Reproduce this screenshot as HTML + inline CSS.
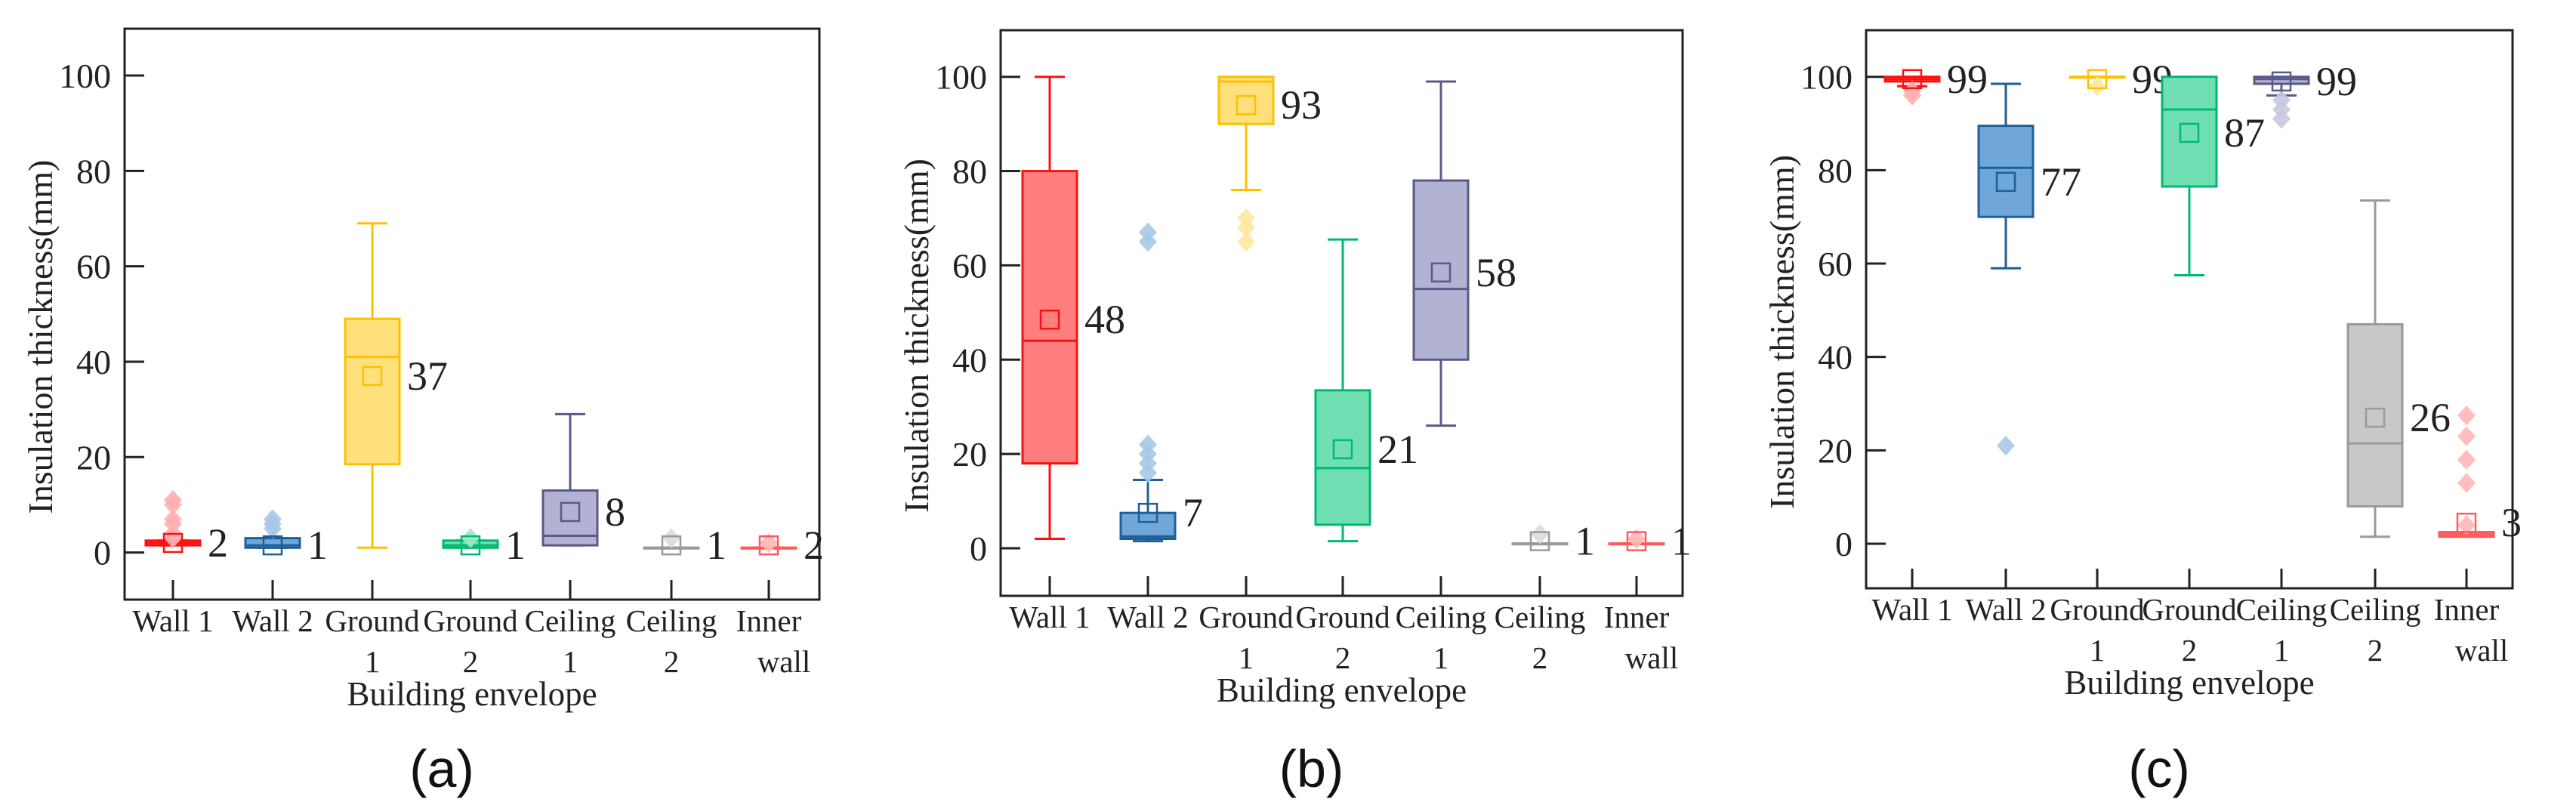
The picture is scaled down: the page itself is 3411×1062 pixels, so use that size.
<!DOCTYPE html>
<html><head><meta charset="utf-8"><style>
html,body{margin:0;padding:0;background:#fff;}
svg{display:block;font-family:"Liberation Serif",serif;}
</style></head><body>
<svg id="fig" width="3411" height="1062" viewBox="0 0 3411 1062"></svg>
<script>
const categories=["Wall 1","Wall 2","Ground 1","Ground 2","Ceiling 1","Ceiling 2","Inner wall"];
const catLine1=["Wall 1","Wall 2","Ground","Ground","Ceiling","Ceiling","Inner"];
const catLine2=["","","1","2","1","2","wall"];
const yTicks=[0,20,40,60,80,100];
const panelLetters=["(a)","(b)","(c)"];
// [min,q1,median,q3,max] per category
const statsA=[[1.5,1.5,2,2.5,2.5],[1,1,1.5,3,3],[1,18.5,41,49,69],[1,1,1.5,2.5,2.5],[1.5,1.5,3.5,13,29],[1,1,1,1,1],[1,1,1,1,1]];
const meansA=[2,1.5,37,1.5,8.5,1.5,1.5];
const labelsA=["2","1","37","1","8","1","2"];
const outliersA=[[3,4,6,7,10,11],[5,6,7],[],[3],[],[3],[2]];
const statsB=[[2,18,44,80,100],[1.5,2,2.5,7.5,14.5],[76,90,99,100,100],[1.5,5,17,33.5,65.5],[26,40,55,78,99],[1,1,1,1,1],[1,1,1,1,1]];
const meansB=[48.5,7.5,94,21,58.5,1.5,1.5];
const labelsB=["48","7","93","21","58","1","1"];
const outliersB=[[],[16,18,20,22,65,67],[65,68,70],[],[],[3],[2]];
const statsC=[[98,99,99.5,100,100],[59,70,80.5,89.5,98.5],[100,100,100,100,100],[57.5,76.5,93,100,100],[96,98.5,99.5,100,100],[1.5,8,21.5,47,73.5],[1.5,1.5,2,2.5,2.5]];
const meansC=[99.5,77.5,99.5,88,99,27,4.5];
const labelsC=["99","77","99","87","99","26","3"];
const outliersC=[[96,97],[21],[98],[],[91,93,95],[],[4,13,18,23,27.5]];

const strokes=["#ff1010","#1f5f99","#ffc000","#00b870","#5a5a8a","#9a9a9a","#ff5a5a"];
const fills=["#ff7f7f","#6fa7d8","#ffe07a","#70e0b4","#b2b2d2","#c8c8c8","#ff9a9a"];
const outFill=["#ffb0b0","#a8c8e8","#ffe8a0","#a0e8c8","#c8c8e0","#dcdcdc","#ffb8b8"];

const panels=[
 {L:165,T:38,R:1085,B:794,y0:731.6,y100:100,cx:[229,361,493,623,755,889,1018],stats:statsA,means:meansA,labels:labelsA,outs:outliersA,name:"a"},
 {L:1325,T:40,R:2228,B:789,y0:726,y100:101.7,cx:[1390,1520,1650,1778,1908,2039,2167],stats:statsB,means:meansB,labels:labelsB,outs:outliersB,name:"b"},
 {L:2471,T:40,R:3327,B:779,y0:720,y100:101.7,cx:[2532,2656,2777,2899,3021,3145,3266],stats:statsC,means:meansC,labels:labelsC,outs:outliersC,name:"c"}
];
const NS="http://www.w3.org/2000/svg";
const svg=document.getElementById("fig");
function mk(tag,attrs,parent){const e=document.createElementNS(NS,tag);for(const k in attrs)e.setAttribute(k,attrs[k]);(parent||svg).appendChild(e);return e;}

panels.forEach((p,pi)=>{
 const g=mk("g",{});
 
 
 const y=v=>p.y0+(p.y100-p.y0)*v/100;
 const fr=mk("rect",{x:p.L,y:p.T,width:p.R-p.L,height:p.B-p.T,fill:"none",stroke:"#222","stroke-width":3},g);
 
 
 yTicks.forEach(t=>{
  const tl=mk("line",{x1:p.L,x2:p.L+26,y1:y(t),y2:y(t),stroke:"#222","stroke-width":3},g);
  
  
  const tx=mk("text",{x:p.L-18,y:y(t)+16,"text-anchor":"end","font-size":46,fill:"#222"},g);
  tx.textContent=t;
  
  
 });
 const yt=mk("text",{x:0,y:0,transform:`translate(${p.L-96},${(p.T+p.B)/2+30}) rotate(-90)`,"text-anchor":"middle","font-size":46,fill:"#222"},g);
 yt.textContent="Insulation thickness(mm)";
 
 
 categories.forEach((c,i)=>{
  const x=p.cx[i];
  const xt=mk("line",{x1:x,x2:x,y1:p.B-26,y2:p.B,stroke:"#222","stroke-width":3},g);
  
  
  const l1=mk("text",{x:x,y:p.B+42,"text-anchor":"middle","font-size":41,fill:"#222"},g);
  l1.textContent=catLine1[i];
  
  
  if(catLine2[i]){
   const l2=mk("text",{x:x+(i==6?20:0),y:p.B+96,"text-anchor":"middle","font-size":41,fill:"#222"},g);
   l2.textContent=catLine2[i];
   
   
  }
  const s=p.stats[i],col=strokes[i];
  const bg=mk("g",{},g);
  
  
  const hw=36,cw=20;
  mk("line",{x1:x,x2:x,y1:y(s[0]),y2:y(s[1]),stroke:col,"stroke-width":3},bg);
  mk("line",{x1:x,x2:x,y1:y(s[3]),y2:y(s[4]),stroke:col,"stroke-width":3},bg);
  mk("line",{x1:x-cw,x2:x+cw,y1:y(s[0]),y2:y(s[0]),stroke:col,"stroke-width":3},bg);
  mk("line",{x1:x-cw,x2:x+cw,y1:y(s[4]),y2:y(s[4]),stroke:col,"stroke-width":3},bg);
  const bh=Math.max(y(s[1])-y(s[3]),1);
  mk("rect",{x:x-hw,y:y(s[3]),width:2*hw,height:bh,fill:fills[i],stroke:col,"stroke-width":3},bg);
  mk("line",{x1:x-hw,x2:x+hw,y1:y(s[2]),y2:y(s[2]),stroke:col,"stroke-width":3},bg);
  p.outs[i].forEach(o=>{
   const d=mk("path",{d:`M${x} ${y(o)-12} L${x+11} ${y(o)} L${x} ${y(o)+12} L${x-11} ${y(o)} Z`,fill:outFill[i],stroke:outFill[i],"stroke-width":1.5,opacity:0.9},bg);
   
   
  });
  const m=mk("rect",{x:x-12,y:y(p.means[i])-12,width:24,height:24,fill:"none",stroke:col,"stroke-width":2.5},bg);
  
  
  const vl=mk("text",{x:x+hw+10,y:y(p.means[i])+18,"font-size":54,fill:"#222"},bg);
  vl.textContent=p.labels[i];
  
  
 });
 const xtTitle=mk("text",{x:(p.L+p.R)/2,y:p.B+140,"text-anchor":"middle","font-size":45,fill:"#222"},g);
 xtTitle.textContent="Building envelope";
 
 
 const pl=mk("text",{x:(p.L+p.R)/2-40,y:1042,"text-anchor":"middle","font-size":70,fill:"#111","font-family":"Liberation Sans, sans-serif"},g);
 pl.textContent=panelLetters[pi];
 
 
});
</script>
</body></html>
